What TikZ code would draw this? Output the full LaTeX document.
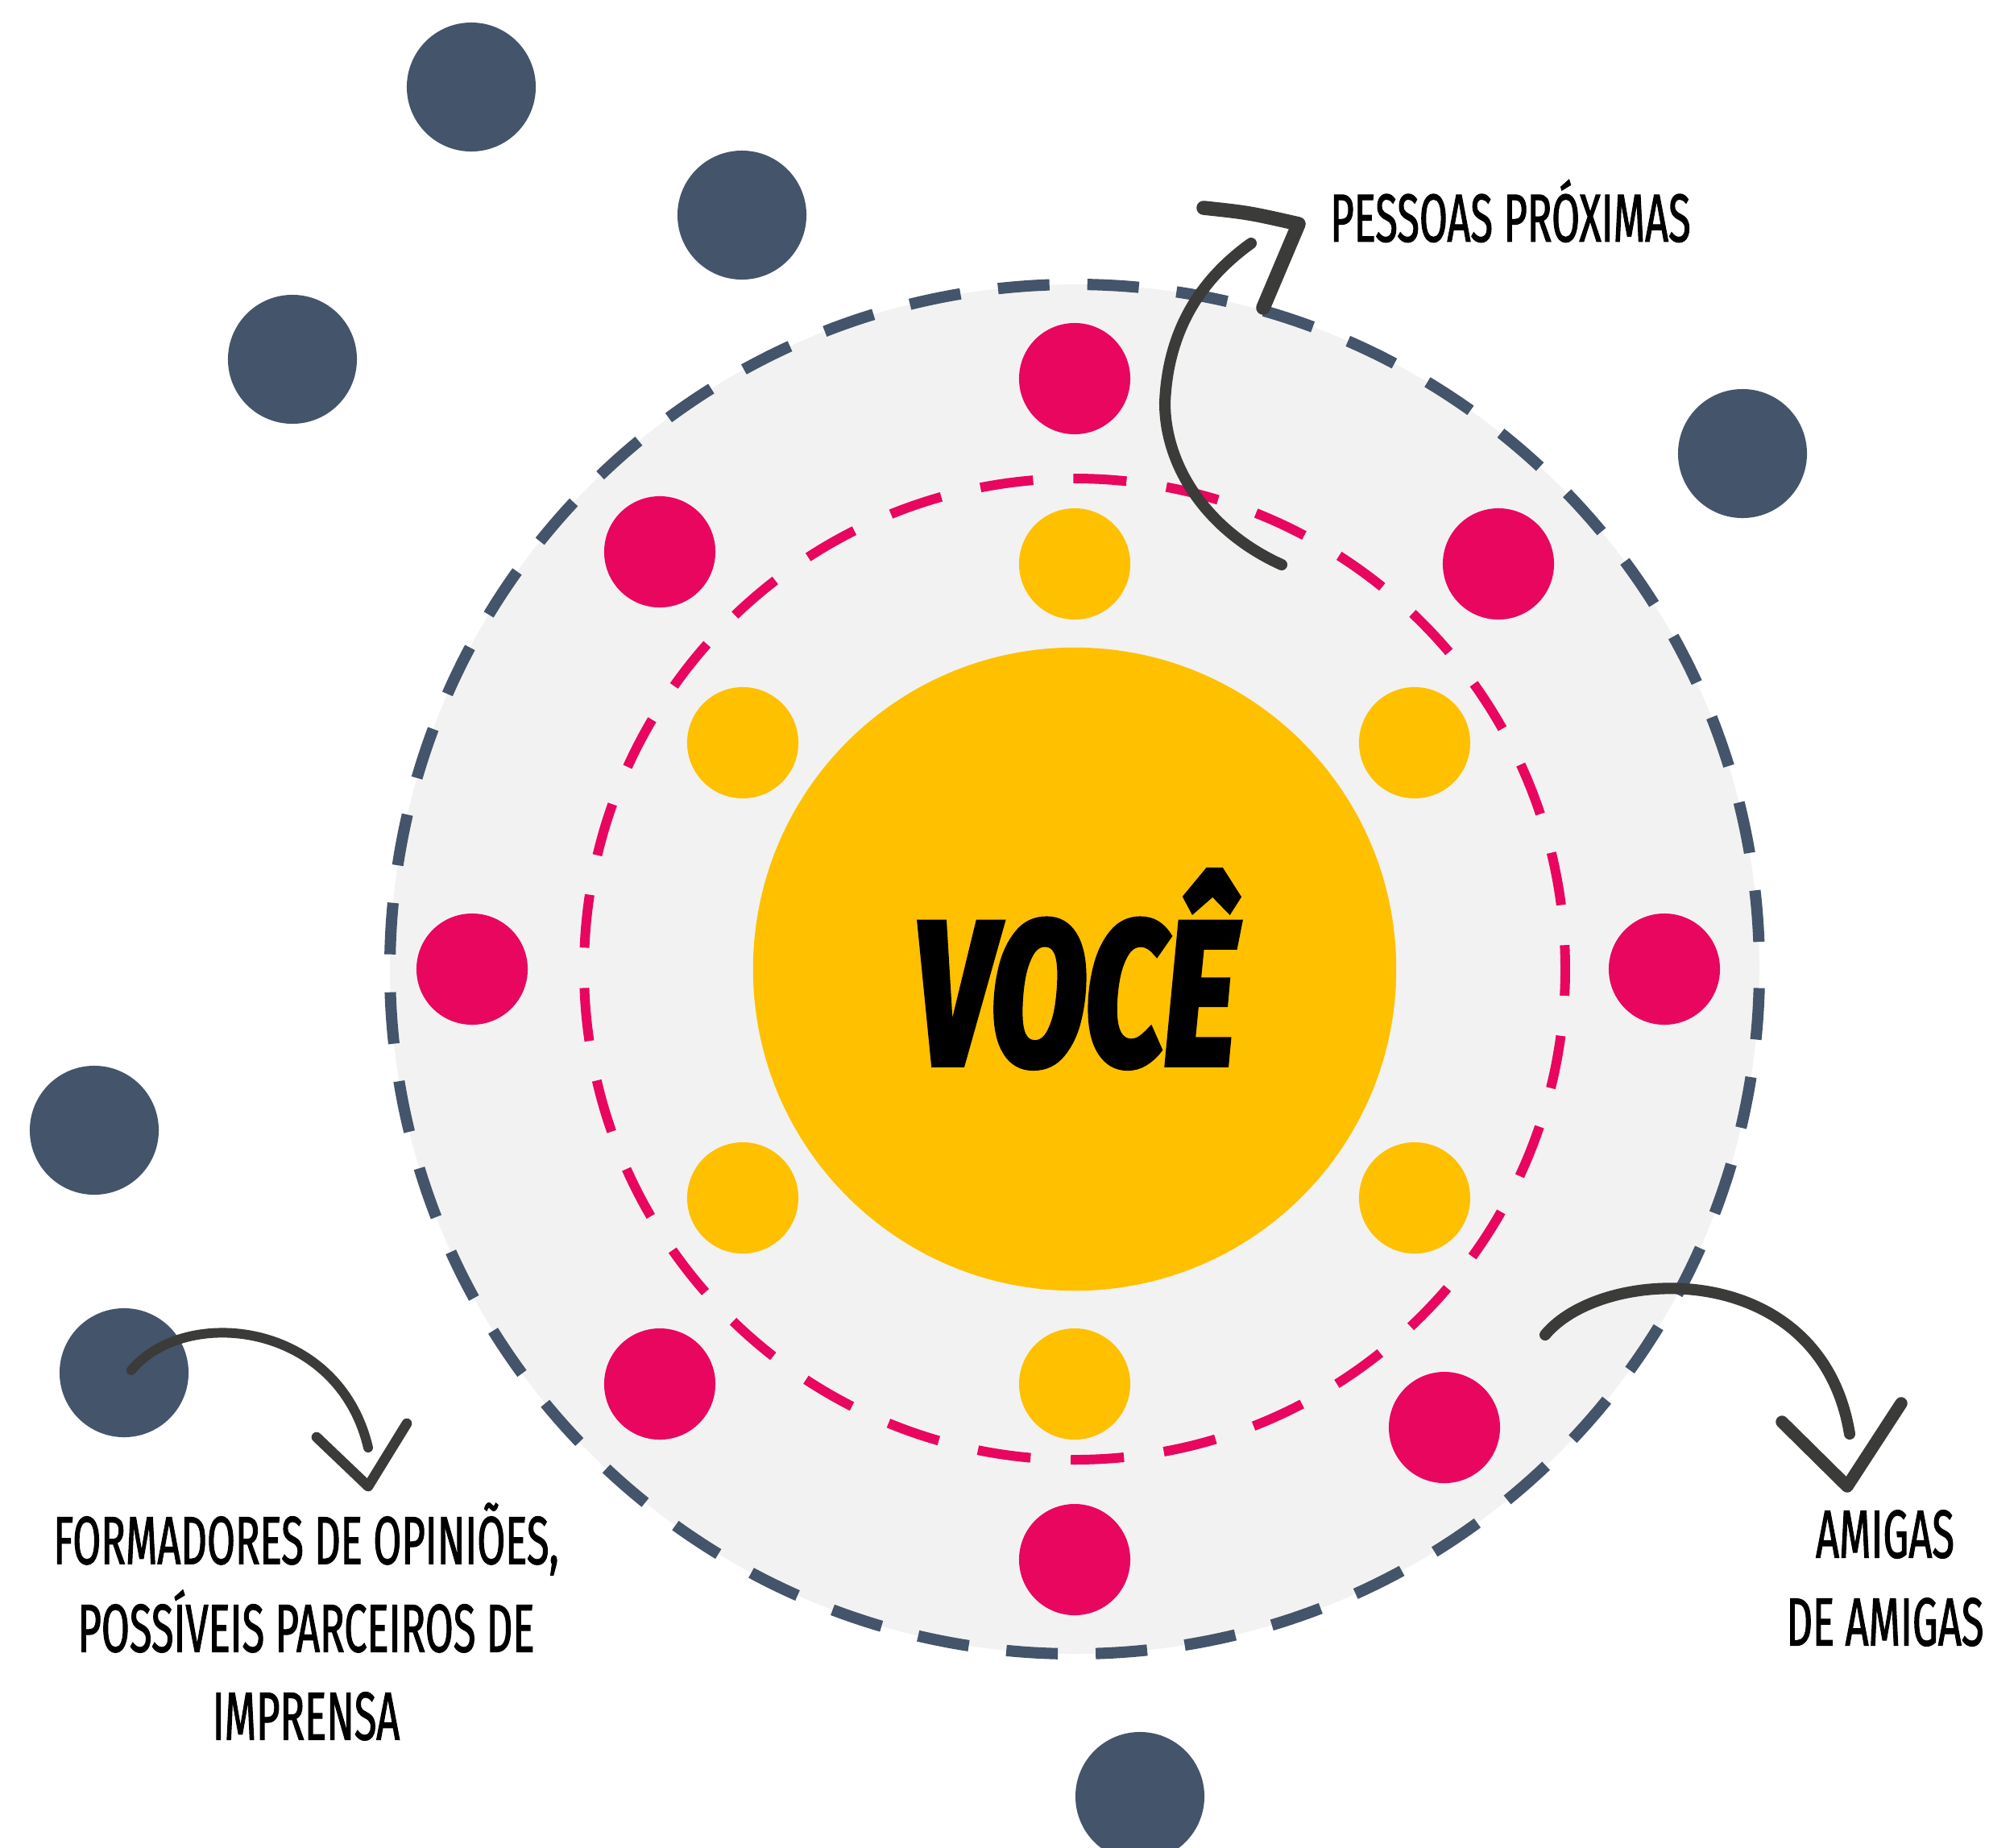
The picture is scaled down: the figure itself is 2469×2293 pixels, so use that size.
\documentclass[tikz,border=0pt]{standalone}
\usepackage{fontspec}
\newfontfamily\handfont[FakeStretch=0.6,FakeBold=1.2]{Fira Sans}
\newfontfamily\brushfont[FakeStretch=0.68,FakeBold=3]{Fira Sans}

\definecolor{ardosia}{HTML}{44546A}
\definecolor{rosa}{HTML}{E8065F}
\definecolor{ouro}{HTML}{FFC000}
\definecolor{cinzaclaro}{HTML}{F2F2F2}
\definecolor{grafite}{HTML}{3B3B39}

\tikzset{
  pessoa/.style={circle, inner sep=0pt, minimum size=1.38cm},
  proxima/.style={pessoa, fill=ouro},
  amiga/.style={pessoa, fill=rosa},
  formador/.style={circle, inner sep=0pt, minimum size=1.6cm, fill=ardosia},
  rotulo/.style={font=\handfont\fontsize{24}{31}\selectfont, align=center, inner sep=0pt},
  seta/.style={grafite, line width=4pt, line cap=round, line join=round}
}

\begin{document}
\begin{tikzpicture}[x=0.01cm, y=-0.01cm]
    \useasboundingbox (0,0) rectangle (2469,2293);
    \clip (0,0) rectangle (2469,2293);
    \coordinate (centro) at (1334,1203);

    %rings
    \filldraw[fill=cinzaclaro, draw=ardosia, line width=4pt,
      dash pattern=on 0.64cm off 0.47cm, dash phase=0.875cm] (centro) circle (850);
    \draw[rosa, line width=3.4pt, dash pattern=on 0.66cm off 0.5cm, dash phase=0.33cm] (centro) circle (609);
    \node[circle, fill=ouro, inner sep=0pt, minimum size=7.98cm] (voce) at (centro)
      {\brushfont\bfseries\itshape\fontsize{72}{72}\selectfont VOCÊ};

    %proximas
    \node[proxima] (y1) at (1334,700) {};
    \node[proxima] (y2) at (922,922) {};
    \node[proxima] (y3) at (1756,922) {};
    \node[proxima] (y4) at (922,1487) {};
    \node[proxima] (y5) at (1756,1487) {};
    \node[proxima] (y6) at (1334,1718) {};

    %amigas de amigas
    \node[amiga] (p1) at (1334,470) {};
    \node[amiga] (p2) at (819,685) {};
    \node[amiga] (p3) at (1860,700) {};
    \node[amiga] (p4) at (586,1203) {};
    \node[amiga] (p5) at (2066,1203) {};
    \node[amiga] (p6) at (819,1718) {};
    \node[amiga] (p7) at (1793,1772) {};
    \node[amiga] (p8) at (1334,1936) {};

    %formadores
    \node[formador] (d1) at (585,108) {};
    \node[formador] (d2) at (921,267) {};
    \node[formador] (d3) at (363,446) {};
    \node[formador] (d4) at (2163,563) {};
    \node[formador] (d5) at (117,1403) {};
    \node[formador] (d6) at (154,1704) {};
    \node[formador] (d7) at (1415,2230) {};

    %labels
    \node[rotulo] (lbproximas) at (1875,262) {PESSOAS PRÓXIMAS};
    \node[rotulo] (lbformadores) at (380,2013) {FORMADORES DE OPINIÕES,\\POSSÍVEIS PARCEIROS DE\\IMPRENSA};
    \node[rotulo] (lbamigas) at (2340,1959) {AMIGAS\\DE AMIGAS};

    %arrows
    \coordinate (a1) at (1591,701);
    \coordinate (a2) at (1446,500);
    \coordinate (a3) at (1553,302);
    \draw[seta] (a1) .. controls (1500,660) and (1446,580) .. (a2)
                     .. controls (1450,400) and (1500,340) .. (a3);
    \draw[seta, line width=5pt] (1494,258) .. controls (1550,264) .. (1612,278) -- (1568,382);

    \coordinate (b1) at (163,1701);
    \coordinate (b2) at (457,1797);
    \draw[seta, line width=3.4pt] (b1) .. controls (230,1620) and (420,1640) .. (b2);
    \draw[seta, line width=3.6pt] (393,1784) -- (457,1845) -- (505,1767);

    \coordinate (c1) at (1918,1657);
    \coordinate (c2) at (2296,1780);
    \draw[seta] (c1) .. controls (1990,1570) and (2260,1560) .. (c2);
    \draw[seta, line width=4.4pt] (2212,1765) -- (2293,1845) -- (2360,1742);
\end{tikzpicture}
\end{document}
